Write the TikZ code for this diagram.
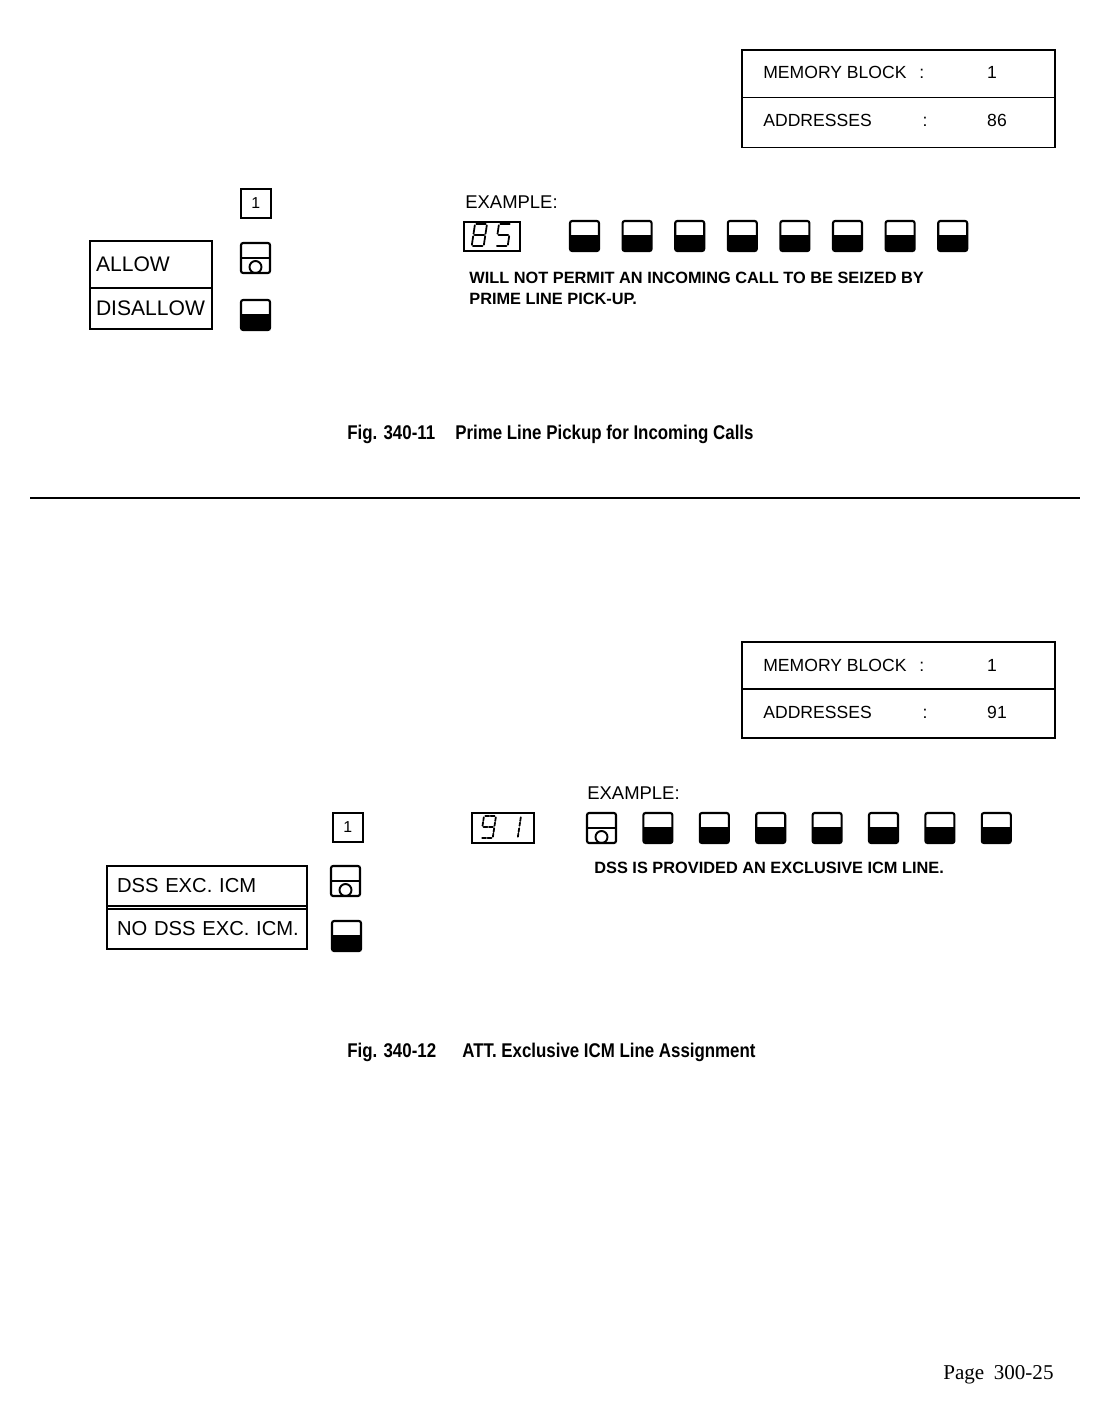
\documentclass[tikz,border=0pt]{standalone}
\usepackage{fontspec}
\setmainfont{Liberation Sans}
\newfontfamily\capfont[FakeStretch=0.85]{Liberation Sans}
\newfontfamily\pagefont{Liberation Serif}
\usetikzlibrary{positioning}

\begin{document}
\begin{tikzpicture}[
  x=0.02cm, y=-0.02cm,
  font=\fontsize{10}{12}\selectfont,
  memrow/.style = {
    rectangle, draw, line width=1.1pt, outer sep=0pt, inner sep=0pt,
    minimum width=6.26cm, minimum height=0.95cm,
  },
  optbox/.style = {
    rectangle, draw, line width=1.1pt, outer sep=0pt, inner ysep=0pt,
    align=left, font=\fontsize{12}{14}\selectfont,
  },
  numkey/.style = {
    rectangle, draw, line width=1pt, anchor=north west, inner sep=0pt,
    minimum width=0.6cm, minimum height=0.58cm, font=\fontsize{9}{10}\selectfont,
  },
  display/.style = {
    rectangle, draw, line width=1.3pt, anchor=north west, inner sep=0pt,
  },
  txt/.style = {anchor=base west, inner sep=0pt},
  val/.style = {anchor=base, inner sep=0pt},
  note/.style = {anchor=west, inner sep=0pt, font=\bfseries\fontsize{9.3}{10}\selectfont},
  figcap/.style = {anchor=base west, inner sep=0pt, font=\capfont\bfseries\fontsize{11.3}{13}\selectfont},
  segline/.style = {line width=1pt, line cap=round, shorten >=0.7pt, shorten <=0.7pt},
  pics/keydark/.style = {code={
    \begin{scope}
      \clip[rounded corners=1.2pt] (0,0) rectangle (29,30);
      \fill (0,14) rectangle (29,30);
    \end{scope}
    \draw[line width=1.2pt, rounded corners=1.2pt] (0,0) rectangle (29,30);
  }},
  pics/keylit/.style = {code={
    \draw[line width=1.2pt, rounded corners=1.2pt] (0,0) rectangle (29,30);
    \draw[line width=1.1pt] (0,15) -- (29,15);
    \draw[line width=1.1pt] (14.5,24) circle [radius=0.12cm];
  }},
  pics/sevenseg/.style = {code={
    \begin{scope}[xslant=0.15]
      \foreach \s in {#1} {\draw[segline] \s;}
    \end{scope}
  }},
]
  \useasboundingbox (0,0) rectangle (1094,1423);

  % ---- Fig. 340-11
  \node[memrow, anchor=north west] (mem1top) at (742,50) {};
  \node[memrow, below=0pt of mem1top, minimum height=1cm] (mem1bot) {};
  \node[txt] (mem1lbl) at (763,78) {MEMORY BLOCK\hspace{4.5pt} :};
  \node[val] (mem1val) at (992,78) {1};
  \node[txt] (adr1lbl) at (763,126) {ADDRESSES};
  \node[val] (adr1col) at (925,126) {:};
  \node[val] (adr1val) at (997,126) {86};

  \node[numkey] (one1) at (240,188) {1};
  \pic at (241,243) {keylit};
  \pic at (241,300) {keydark};
  \node[optbox, anchor=north west, text width=2.2cm, inner xsep=0.12cm, minimum height=0.94cm] (allow) at (90,241) {ALLOW};
  \node[optbox, below=0pt of allow, text width=2.2cm, inner xsep=0.12cm, minimum height=0.82cm] (disallow) {DISALLOW};

  \node[txt, font=\fontsize{10.5}{12}\selectfont] (ex1) at (465,208) {EXAMPLE:};
  \node[display, minimum width=1.12cm, minimum height=0.58cm] (disp1) at (463,221) {};
  \pic at (475,224) {sevenseg={{(0,0)--(12,0)},{(12,0)--(12,11)},{(12,11)--(12,22)},{(12,22)--(0,22)},{(0,22)--(0,11)},{(0,11)--(0,0)},{(0,11)--(12,11)}}};
  \pic at (499,224) {sevenseg={{(12,0)--(0,0)},{(0,0)--(0,11)},{(0,11)--(12,11)},{(12,11)--(12,22)},{(12,22)--(0,22)}}};
  \foreach \i in {0,...,7}
    \pic at (570+52.6*\i,221) {keydark};
  \node[note] (note1a) at (469,278) {WILL NOT PERMIT AN INCOMING CALL TO BE SEIZED BY};
  \node[note] (note1b) at (469,299) {PRIME LINE PICK-UP.};

  \node[figcap] (cap1num) at (347,439) {Fig. 340-11};
  \node[figcap] (cap1txt) at (455,439) {Prime Line Pickup for Incoming Calls};

  \coordinate (ruleL) at (30,498);
  \coordinate (ruleR) at (1080,498);
  \draw[line width=0.7pt] (ruleL) -- (ruleR);

  % ---- Fig. 340-12
  \node[memrow, anchor=north west, minimum height=0.94cm] (mem2top) at (742,642) {};
  \node[memrow, below=0pt of mem2top, minimum height=0.98cm] (mem2bot) {};
  \node[txt] (mem2lbl) at (763,671) {MEMORY BLOCK\hspace{4.5pt} :};
  \node[val] (mem2val) at (992,671) {1};
  \node[txt] (adr2lbl) at (763,718) {ADDRESSES};
  \node[val] (adr2col) at (925,718) {:};
  \node[val] (adr2val) at (997,718) {91};

  \node[txt, font=\fontsize{10.5}{12}\selectfont] (ex2) at (587,799) {EXAMPLE:};
  \node[numkey] (one2) at (332,812) {1};
  \node[display, minimum width=1.24cm, minimum height=0.6cm] (disp2) at (471,812) {};
  \begin{scope}[segline/.append style={dash pattern=on 2.2pt off 0.9pt}]
    \pic at (484,816) {sevenseg={{(0,0)--(12,0)},{(12,0)--(12,11)},{(12,11)--(12,22)},{(12,22)--(0,22)},{(0,11)--(0,0)},{(0,11)--(12,11)}}};
    \pic at (509,816) {sevenseg={{(12,0)--(12,11)},{(12,11)--(12,22)}}};
  \end{scope}
  \pic at (587,813) {keylit};
  \foreach \i in {1,...,7}
    \pic at (587+56.4*\i,813) {keydark};
  \node[note] (note2) at (594,868) {DSS IS PROVIDED AN EXCLUSIVE ICM LINE.};

  \pic at (331,866) {keylit};
  \pic at (332,921) {keydark};
  \node[optbox, anchor=north west, text width=3.6cm, inner xsep=0.2cm, minimum height=0.8cm, font=\fontsize{11.5}{13}\selectfont] (dssexc) at (107,866) {DSS EXC. ICM};
  \node[optbox, below=0.06cm of dssexc, text width=3.6cm, inner xsep=0.2cm, minimum height=0.8cm, font=\fontsize{11.5}{13}\selectfont] (nodssexc) {\mbox{NO DSS EXC. ICM.}};
  \draw[line width=1.1pt] (dssexc.north west) rectangle (nodssexc.south east);

  \node[figcap] (cap2num) at (347,1057) {Fig. 340-12};
  \node[figcap] (cap2txt) at (462,1057) {ATT. Exclusive ICM Line Assignment};

  \node[anchor=base west, inner sep=0pt, font=\pagefont\fontsize{12}{14}\selectfont] (pagenum) at (943,1379) {Page\hspace{0.45em}300-25};
\end{tikzpicture}
\end{document}
